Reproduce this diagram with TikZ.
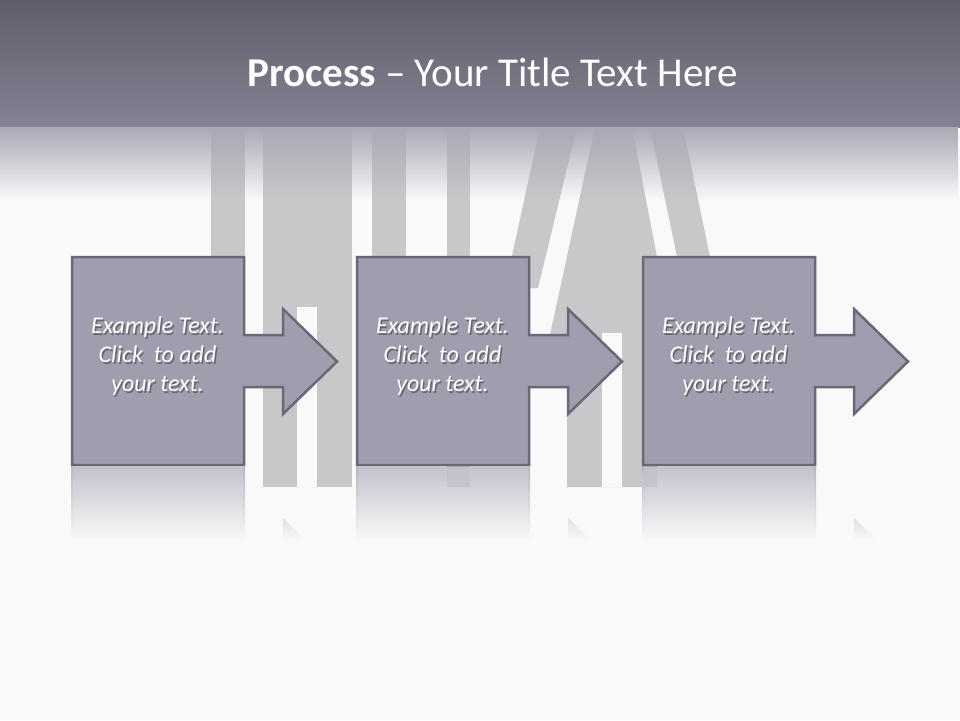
\documentclass[tikz,border=0pt]{standalone}
\usepackage{fontspec}
\setmainfont{Carlito}
\usetikzlibrary{fadings}
\definecolor{pagebg}{HTML}{F9F9F9}
\definecolor{bandtop}{HTML}{625D6C}
\definecolor{bandbot}{HTML}{878293}
\definecolor{fadecol}{HTML}{ABA7B5}
\definecolor{stripe}{HTML}{C8C8CA}
\definecolor{boxfill}{HTML}{A19DAE}
\definecolor{boxline}{HTML}{6B6776}
\definecolor{reflcol}{HTML}{C5C2CD}
\tikzfading[name=fadedown, top color=transparent!0, bottom color=transparent!100]
\tikzset{
  stripefill/.style={fill=stripe},
  slotfill/.style={fill=pagebg},
  procshape/.style={fill=boxfill, draw=boxline, line width=2.5pt, line join=miter},
  boxtext/.style={text=white, font=\fontsize{24}{29}\selectfont\itshape, align=center, inner sep=0pt},
  shadowtext/.style={boxtext, text=black, opacity=0.35},
  reflection/.style={fill=reflcol, path fading=fadedown},
  refledge/.style={top color=boxline!45!pagebg, bottom color=pagebg},
}
\newcommand{\procstep}[2]{%
  \path[procshape] (#1,257) -- (#1+172,257) -- (#1+172,335) -- (#1+211,335) -- (#1+211,309)
    -- (#1+265,361.5) -- (#1+211,414) -- (#1+211,387) -- (#1+172,387) -- (#1+172,465)
    -- (#1,465) -- cycle;
  \path[reflection] (#1-1,467) rectangle (#1+173,540);
  \shade[refledge] (#1-1,467) rectangle (#1+1,540);
  \shade[refledge] (#1+171,467) rectangle (#1+173,540);
  \path[fill=stripe, opacity=0.5, path fading=fadedown] (#1+211,518) -- (#1+233,540) -- (#1+211,540) -- cycle;
  \node[shadowtext] (#2s) at (#1+87,358) {Example Text.\\Click\ \ to add\\your text.};
  \node[boxtext] (#2) at (#1+85.5,356) {Example Text.\\Click\ \ to add\\your text.};
}
\begin{document}
\begin{tikzpicture}[x=1pt,y=-1pt]
\useasboundingbox (0,0) rectangle (960,720);
\fill[pagebg] (0,0) rectangle (960,720);
% background stripes
\path[stripefill] (211,127) rectangle (245,300);
\path[stripefill] (263,127) rectangle (352,487);
\path[slotfill] (297,307) rectangle (317,487);
\path[stripefill] (372,127) rectangle (406,300);
\path[stripefill] (447,127) rectangle (470,487);
\path[stripefill] (540,127) -- (577,127) -- (538,288) -- (505,288) -- cycle;
\path[stripefill] (595,127) -- (632,127) -- (657,257) -- (657,487) -- (567,487) -- (567,335) -- (550,335) -- cycle;
\path[slotfill] (602,333) rectangle (622,487);
\path[stripefill] (650,127) -- (683,127) -- (719,300) -- (686,300) -- cycle;
% title band
\shade[top color=bandtop, bottom color=bandbot] (0,0) rectangle (960,127.5);
\path[fill=fadecol, path fading=fadedown] (0,127) rectangle (960,200);
\node[text=white, font=\fontsize{41}{48}\selectfont, anchor=base, inner sep=0pt] (title) at (492.5,86) {\textbf{Process} – Your Title Text Here};
% process steps
\procstep{72}{t1}
\procstep{357}{t2}
\procstep{643}{t3}
\end{tikzpicture}
\end{document}
